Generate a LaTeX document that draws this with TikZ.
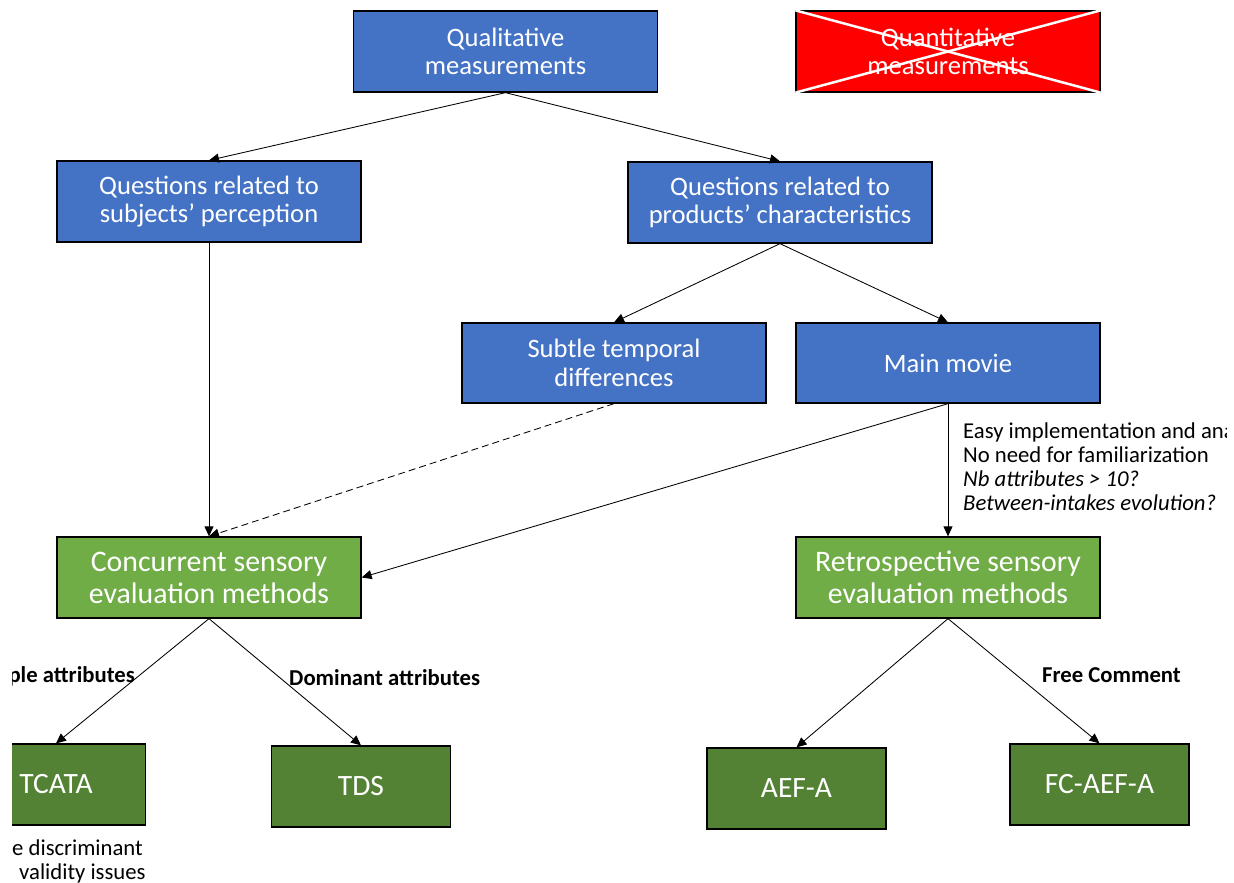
\documentclass[tikz,border=0pt]{standalone}
\usepackage{fontspec}
\setmainfont{Carlito}
\usetikzlibrary{arrows.meta}
\definecolor{cblue}{HTML}{4472C4}
\definecolor{cgreen}{HTML}{70AD47}
\definecolor{cdgreen}{HTML}{548235}
\definecolor{cred}{HTML}{FF0000}
\tikzset{
  box/.style={draw=black, line width=1.3pt, text=white, align=center, inner sep=0pt,
    font=\fontsize{26.6}{28.5}\selectfont},
  bluebox/.style={box, fill=cblue, minimum width=304pt, minimum height=81pt},
  redbox/.style={box, fill=cred, minimum width=304pt, minimum height=81pt},
  greenbox/.style={box, fill=cgreen, minimum width=304pt, minimum height=81pt,
    font=\fontsize{29.8}{32}\selectfont},
  dgreenbox/.style={box, fill=cdgreen, minimum width=179pt, minimum height=81pt,
    font=\fontsize{29.5}{32}\selectfont},
  conn/.style={line width=0.85pt, -{Triangle[length=10pt,width=9pt]}},
  side/.style={anchor=base west, inner sep=0pt, font=\fontsize{22.7}{24}\selectfont},
  lbl/.style={inner sep=0pt, font=\bfseries\fontsize{22.7}{24}\selectfont},
}
\begin{document}
\begin{tikzpicture}[x=1pt,y=-1pt]
\useasboundingbox (0,0) rectangle (1234,883);
\begin{scope}
\clip (12,0) rectangle (1226,883);
\node[bluebox] (qual) at (505.5,51.5) {Qualitative\\measurements};
\node[redbox] (quant) at (948,51.5) {Quantitative\\measurements};
\draw[white, line width=2.5pt] (quant.north west) -- (quant.south east);
\draw[white, line width=2.5pt] (quant.south west) -- (quant.north east);
\node[bluebox] (qsubj) at (209,201.5) {Questions related to\\subjects’ perception};
\node[bluebox] (qprod) at (780,202.5) {Questions related to\\products’ characteristics};
\node[bluebox, minimum height=80pt] (subtle) at (614,363) {Subtle temporal\\differences};
\node[bluebox, minimum height=80pt] (main) at (948,363) {Main movie};
\node[greenbox] (conc) at (209,577.5) {Concurrent sensory\\evaluation methods};
\node[greenbox] (retro) at (948,577.5) {Retrospective sensory\\evaluation methods};
\node[dgreenbox] (tcata) at (56,784.5) {TCATA};
\node[dgreenbox] (tds) at (361,786.5) {TDS};
\node[dgreenbox] (aef) at (796.5,788.5) {AEF-A};
\node[dgreenbox] (fc) at (1099.5,784.5) {FC-AEF-A};

\draw[conn] (qual.south) -- (qsubj.north);
\draw[conn] (qual.south) -- (qprod.north);
\draw[conn] (qsubj.south) -- (conc.north);
\draw[conn] (qprod.south) -- (subtle.north);
\draw[conn] (qprod.south) -- (main.north);
\draw[conn, dashed, dash pattern=on 7pt off 4pt] (subtle.south) -- (conc.north);
\draw[conn] (main.south) -- (conc.east);
\draw[conn] (main.south) -- (retro.north);
\draw[conn] (conc.south) -- (tcata.north);
\draw[conn] (conc.south) -- (tds.north);
\draw[conn] (retro.south) -- (aef.north);
\draw[conn] (retro.south) -- (fc.north);

\node[side] (s1) at (963,438) {Easy implementation and ana};
\node[side] (s2) at (963,462) {No need for familiarization};
\node[side] (s3) at (963,486) {\itshape Nb attributes > 10?};
\node[side] (s4) at (963,510) {\itshape Between-intakes evolution?};

\node[lbl, anchor=base east] (l1) at (135,682) {ple attributes};
\node[lbl, anchor=base west] (l2) at (289,685) {Dominant attributes};
\node[lbl, anchor=base west] (l3) at (1042,682) {Free Comment};

\node[side] (b1) at (12,855) {e discriminant};
\node[side] (b2) at (19,879) {validity issues};
\end{scope}
\end{tikzpicture}
\end{document}
